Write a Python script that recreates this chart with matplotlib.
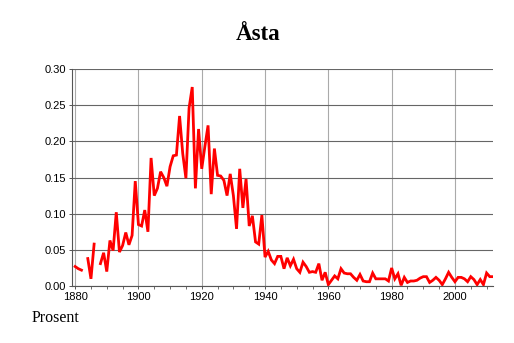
import numpy as np
import matplotlib
matplotlib.use('Agg')
import matplotlib.pyplot as plt
from matplotlib.ticker import MultipleLocator

# share of the name per year (percent); nan = no data that year
years = np.arange(1880, 2013)
values = [
    0.027, 0.024, 0.022, np.nan, 0.038, 0.010, 0.058, np.nan, 0.031, 0.046,   # 1880-1889
    0.020, 0.063, 0.049, 0.102, 0.047, 0.056, 0.074, 0.057, 0.070, 0.145,     # 1890-1899
    0.085, 0.083, 0.105, 0.075, 0.177, 0.125, 0.135, 0.158, 0.150, 0.138,     # 1900-1909
    0.165, 0.180, 0.181, 0.235, 0.183, 0.149, 0.246, 0.275, 0.135, 0.217,     # 1910-1919
    0.162, 0.193, 0.222, 0.127, 0.190, 0.153, 0.152, 0.146, 0.125, 0.155,     # 1920-1929
    0.125, 0.079, 0.162, 0.108, 0.148, 0.083, 0.097, 0.061, 0.058, 0.098,     # 1930-1939
    0.040, 0.048, 0.036, 0.031, 0.041, 0.041, 0.024, 0.039, 0.028, 0.037,     # 1940-1949
    0.024, 0.019, 0.033, 0.027, 0.019, 0.020, 0.019, 0.031, 0.008, 0.019,     # 1950-1959
    0.002, 0.008, 0.014, 0.010, 0.024, 0.018, 0.017, 0.017, 0.012, 0.008,     # 1960-1969
    0.016, 0.007, 0.006, 0.006, 0.018, 0.010, 0.010, 0.010, 0.010, 0.007,     # 1970-1979
    0.025, 0.010, 0.017, 0.001, 0.012, 0.005, 0.007, 0.007, 0.008, 0.011,     # 1980-1989
    0.013, 0.013, 0.005, 0.008, 0.012, 0.008, 0.002, 0.010, 0.019, 0.012,     # 1990-1999
    0.006, 0.012, 0.012, 0.010, 0.006, 0.013, 0.009, 0.002, 0.009, 0.002,     # 2000-2009
    0.018, 0.013, 0.013,                                                      # 2010-2012
]

title = 'Åsta'
ylabel = 'Prosent'

fig = plt.figure(figsize=(5.14, 3.43), dpi=100)
ax = fig.add_axes([0.140, 0.166, 0.819, 0.633])

ax.plot(years, values, color='#ff0000', lw=2.0, solid_joinstyle='miter')

ax.set_xlim(1879, 2012)
ax.set_ylim(0, 0.30)
ax.xaxis.set_major_locator(MultipleLocator(20))
ax.xaxis.set_minor_locator(MultipleLocator(5))
ax.yaxis.set_major_locator(MultipleLocator(0.05))
ax.yaxis.set_major_formatter(matplotlib.ticker.FormatStrFormatter('%.2f'))

ax.grid(axis='y', color='#666666', lw=0.8)
ax.grid(axis='x', color='#aaaaaa', lw=0.8)
ax.set_axisbelow(True)

for s in ['top', 'right']:
    ax.spines[s].set_visible(False)
for s in ['left', 'bottom']:
    ax.spines[s].set_color('#555555')
    ax.spines[s].set_linewidth(0.8)

ax.tick_params(axis='both', which='major', labelsize=8, length=2.5, width=0.7,
               color='#555555', pad=1.5)
ax.tick_params(axis='x', which='minor', length=2.5, width=0.6, color='#555555')
for lab in ax.get_xticklabels() + ax.get_yticklabels():
    lab.set_family('Liberation Sans')

fig.text(0.502, 0.9, title, ha='center', va='center', fontsize=16.5,
         fontweight='bold', family='Liberation Serif')
fig.text(0.062, 0.073, ylabel, ha='left', va='center', fontsize=11.5,
         family='Liberation Serif')

fig.savefig('out.png', dpi=100)
